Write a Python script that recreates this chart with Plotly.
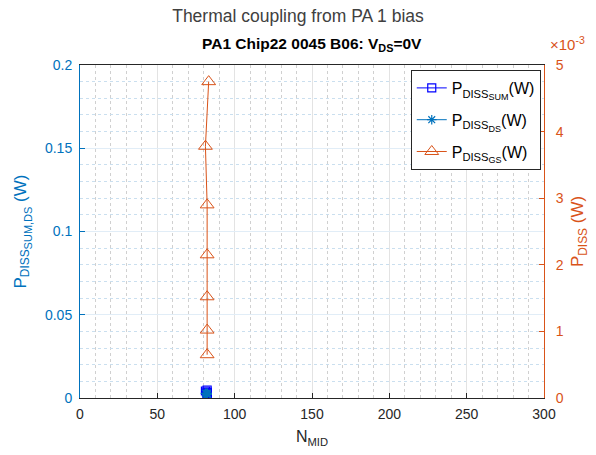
import plotly.graph_objects as go

# Data
n_mid_gs = [83.2, 81.1, 82.2, 82.2, 82.2, 82.2, 82.2]
p_diss_gs = [0.00475, 0.00378, 0.00290, 0.00215, 0.00152, 0.00102, 0.00065]
n_mid_ds = [82.2, 81.1, 82.2, 82.2, 82.2, 82.2, 82.2]
p_diss_ds = [0.0030, 0.0028, 0.0026, 0.0025, 0.0024, 0.0023, 0.0022]
p_diss_sum = [0.0048, 0.0042, 0.0036, 0.0033, 0.0030, 0.0027, 0.0025]

left_ticks = [0, 0.05, 0.1, 0.15, 0.2]
left_ticktext = ["0", "0.05", "0.1", "0.15", "0.2"]
right_ticks = [0, 0.001, 0.002, 0.003, 0.004, 0.005]
right_ticktext = ["0", "1", "2", "3", "4", "5"]
x_ticks = [0, 50, 100, 150, 200, 250, 300]

BLUE = "#0072BD"
ORANGE = "#D95319"
DARK = "#262626"
FONT = "Liberation Sans, Arial, sans-serif"


def nested(sub1, sub2, size):
    return ("P<sub>%s<sub><span style=\"font-size:%dpx\">%s</span></sub></sub>"
            % (sub1, size, sub2))


fig = go.Figure()
fig.add_trace(go.Scatter(
    x=n_mid_ds, y=p_diss_sum, mode="lines+markers",
    name=nested("DISS", "SUM", 9) + "(W)", legendgroup="a",
    line=dict(color="#0000FF", width=1),
    marker=dict(symbol="square-open", size=8, color="#0000FF", line=dict(width=1.2)),
    yaxis="y"))
fig.add_trace(go.Scatter(
    x=n_mid_ds, y=p_diss_ds, mode="lines+markers",
    name=nested("DISS", "DS", 9) + "(W)", legendgroup="b",
    line=dict(color=BLUE, width=1),
    marker=dict(symbol="asterisk-open", size=8, color=BLUE, line=dict(width=1.2, color=BLUE)),
    yaxis="y"))
fig.add_trace(go.Scatter(
    x=n_mid_gs, y=p_diss_gs, mode="lines+markers",
    name=nested("DISS", "GS", 9) + "(W)", legendgroup="c",
    line=dict(color=ORANGE, width=1),
    marker=dict(symbol="triangle-up-open", size=12, color=ORANGE, line=dict(width=1)),
    yaxis="y2"))

fig.update_layout(
    width=596, height=455,
    margin=dict(l=80, r=50, t=65, b=57),
    paper_bgcolor="white", plot_bgcolor="white",
    font=dict(family=FONT, size=14, color=DARK),
    title=dict(text="Thermal coupling from PA 1 bias", x=0.5, xanchor="center",
               y=0.965, yanchor="middle", font=dict(size=17.5, color="#404040")),
    xaxis=dict(range=[0, 300], tickvals=x_ticks, ticks="inside", ticklen=5,
               showline=True, linecolor=DARK, linewidth=1, mirror=True,
               tickcolor=DARK, tickfont=dict(size=14, color=DARK), ticklabelstandoff=3,
               showgrid=True, gridcolor="#E3E3E3", gridwidth=1, zeroline=False,
               minor=dict(dtick=10, showgrid=True, griddash="dot", gridcolor="#D0D0D0", ticks=""),
               title=dict(text="N<sub>MID</sub>", font=dict(size=16, color=DARK), standoff=10)),
    yaxis=dict(range=[0, 0.2], tickvals=left_ticks, ticktext=left_ticktext,
               ticks="inside", ticklen=5, tickcolor=BLUE, ticklabelstandoff=4,
               showline=True, linecolor=BLUE, linewidth=1,
               tickfont=dict(size=14, color=BLUE),
               showgrid=True, gridcolor="#E1EDF7", gridwidth=1, zeroline=False,
               minor=dict(dtick=0.01, showgrid=True, griddash="dot", gridcolor="#CADFEF", ticks=""),
               title=dict(text=nested("DISS", "SUM,DS", 11) + " (W)",
                          font=dict(size=17, color=BLUE), standoff=14)),
    yaxis2=dict(range=[0, 0.005], tickvals=right_ticks, ticktext=right_ticktext,
                overlaying="y", side="right", ticks="inside", ticklen=5, tickcolor=ORANGE,
                ticklabelstandoff=8,
                showline=True, linecolor=ORANGE, linewidth=1,
                tickfont=dict(size=14, color=ORANGE), showgrid=False, zeroline=False,
                title=dict(text="P<sub>DISS</sub> (W)", font=dict(size=17, color=ORANGE), standoff=8)),
    legend=dict(x=0.993, y=0.985, xanchor="right", yanchor="top",
                bgcolor="white", bordercolor=DARK, borderwidth=1,
                font=dict(size=16, color="black"), tracegroupgap=8),
    showlegend=True,
)

fig.add_annotation(text="<b>PA1 Chip22 0045 B06: V<sub>DS</sub>=0V</b>",
                   xref="paper", yref="paper", x=0.5, y=1.0, yshift=21,
                   xanchor="center", yanchor="middle", showarrow=False,
                   font=dict(size=15.5, color="black"))
fig.add_annotation(text="×10<sup>-3</sup>",
                   xref="paper", yref="paper", x=1.0, y=1.0, yshift=10, xshift=4,
                   xanchor="left", yanchor="bottom", showarrow=False,
                   font=dict(size=15, color=ORANGE))

fig.write_html("out.html")
